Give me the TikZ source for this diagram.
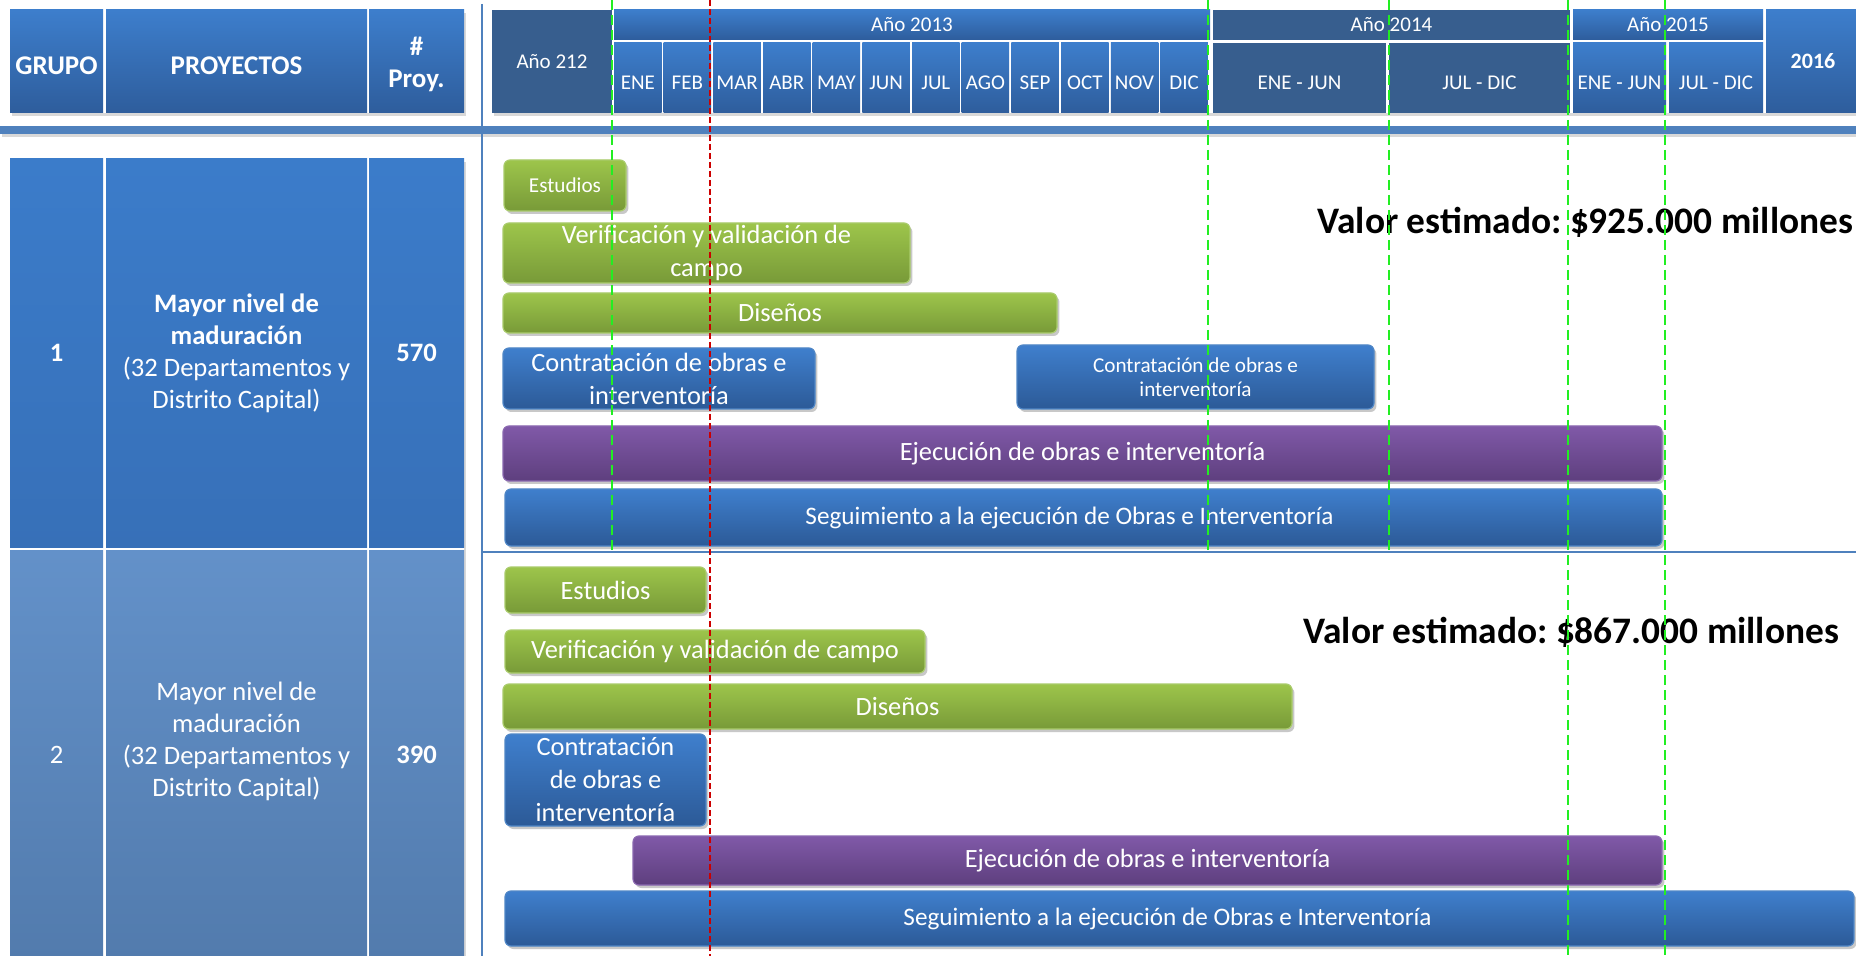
\documentclass[tikz,border=0pt]{standalone}
\usepackage{fontspec}
\setmainfont{Carlito}
\frenchspacing
\usetikzlibrary{shadows}

\definecolor{hdrtop}{HTML}{3D7ECC}
\definecolor{hdrbot}{HTML}{2E5D9C}
\definecolor{hdrdark}{HTML}{375E8E}
\definecolor{gonetop}{HTML}{3B7CCA}
\definecolor{gonebot}{HTML}{3770B8}
\definecolor{gtwotop}{HTML}{6391C9}
\definecolor{gtwobot}{HTML}{527BAD}
\definecolor{greentop}{HTML}{9DC54B}
\definecolor{greenbot}{HTML}{789A38}
\definecolor{greenedge}{HTML}{A9CB6B}
\definecolor{bluetop}{HTML}{3F7FCD}
\definecolor{bluebot}{HTML}{2C5A97}
\definecolor{blueedge}{HTML}{4F86C6}
\definecolor{purpletop}{HTML}{8059A8}
\definecolor{purplebot}{HTML}{5E3F7E}
\definecolor{purpleedge}{HTML}{8A68B0}
\definecolor{rulecol}{HTML}{4F81BD}
\definecolor{guidegreen}{HTML}{22EE22}
\definecolor{guidered}{HTML}{CC0000}

\tikzset{
  cell/.style={inner sep=0pt, outer sep=0pt, text=white, align=center},
  sz/.style 2 args={minimum width=#1*0.5pt, minimum height=#2*0.5pt},
  lightcell/.style={cell, top color=hdrtop, bottom color=hdrbot},
  darkcell/.style={cell, fill=hdrdark},
  headfont/.style={font=\fontsize{13.5}{16}\selectfont\bfseries, text height=12.7pt, text depth=0pt},
  monthfont/.style={font=\fontsize{10.5}{12.5}\selectfont},
  lowtext/.style={text height=11.5pt, text depth=0pt},
  gonecell/.style={cell, top color=gonetop, bottom color=gonebot, font=\fontsize{13.3}{16}\selectfont},
  gtwocell/.style={cell, top color=gtwotop, bottom color=gtwobot, font=\fontsize{13.3}{16}\selectfont},
  barshadow/.style={drop shadow={shadow xshift=1.2pt, shadow yshift=-1.5pt, opacity=0.3, fill=black!70}},
  tabshadow/.style={drop shadow={shadow xshift=1pt, shadow yshift=-1.5pt, opacity=0.25, fill=black!60}},
  task/.style={cell, rounded corners=3pt, line width=0.6pt, barshadow, font=\fontsize{13.2}{16.5}\selectfont},
  greentask/.style={task, draw=greenedge, top color=greentop, bottom color=greenbot},
  bluetask/.style={task, draw=blueedge, top color=bluetop, bottom color=bluebot},
  purpletask/.style={task, draw=purpleedge, top color=purpletop, bottom color=purplebot},
  smalltext/.style={font=\fontsize{10.6}{12}\selectfont},
  guide/.style={guidegreen, line width=1pt, dash pattern=on 5pt off 2.5pt},
  today/.style={guidered, line width=1pt, dash pattern=on 3pt off 1.5pt},
  valor/.style={font=\fontsize{18.7}{22}\selectfont\bfseries, inner sep=0pt, anchor=base west}
}

\begin{document}
\begin{tikzpicture}[x=0.5pt, y=-0.5pt]
\useasboundingbox[fill=white] (0,0) rectangle (1856,956);

    \fill [white, tabshadow] (10,10) rectangle (464,113);
    \fill [white, tabshadow] (492,10) rectangle (1856,113);
    \fill [white, tabshadow] (10,159) rectangle (464,960);
    \fill [rulecol, tabshadow] (0,126) rectangle (1856,134);
    \draw [rulecol, line width=0.75pt] (482,4) -- (482,956);
    \draw [rulecol, line width=0.6pt] (482,552) -- (1856,552);

    \node [lightcell, headfont, sz={93}{103}] (grupo) at (56.5,61.5) {GRUPO};
    \node [lightcell, headfont, sz={261}{103}] (proyectos) at (236.5,61.5) {PROYECTOS};
    \node [lightcell, headfont, text height=26.5pt, sz={95}{103}] (numproy) at (416.5,61.5) {\#\\Proy.};

    \node [gonecell, sz={93}{388}] (gruno) at (56.5,353) {\textbf{1}};
    \node [gonecell, sz={261}{388}] (pruno) at (236.5,353) {\textbf{Mayor nivel de}\\\textbf{maduración}\\(32 Departamentos y\\Distrito Capital)};
    \node [gonecell, sz={95}{388}] (nuno) at (416.5,353) {\textbf{570}};

    \node [gtwocell, sz={93}{410}] (grdos) at (56.5,755) {2};
    \node [gtwocell, sz={261}{410}] (prdos) at (236.5,755) {};
    \node [cell, font=\fontsize{13.3}{16}\selectfont] (prdostxt) at (236.5,741) {Mayor nivel de\\maduración\\(32 Departamentos y\\Distrito Capital)};
    \node [gtwocell, sz={95}{410}] (ndos) at (416.5,755) {\textbf{390}};

    \node [darkcell, monthfont, sz={120}{103}] (a212) at (552,61.5) {Año 212};
    \node [lightcell, monthfont, sz={596}{30}] (a2013) at (912,25) {Año 2013};
    \node [lightcell, monthfont, lowtext, sz={47.5}{70}] (ene) at (637.8,78) {ENE};
    \node [lightcell, monthfont, lowtext, sz={47.5}{70}] (feb) at (687.4,78) {FEB};
    \node [lightcell, monthfont, lowtext, sz={47.5}{70}] (mar) at (737.1,78) {MAR};
    \node [lightcell, monthfont, lowtext, sz={47.5}{70}] (abr) at (786.8,78) {ABR};
    \node [lightcell, monthfont, lowtext, sz={47.5}{70}] (may) at (836.4,78) {MAY};
    \node [lightcell, monthfont, lowtext, sz={47.5}{70}] (jun) at (886.1,78) {JUN};
    \node [lightcell, monthfont, lowtext, sz={47.5}{70}] (jul) at (935.8,78) {JUL};
    \node [lightcell, monthfont, lowtext, sz={47.5}{70}] (ago) at (985.4,78) {AGO};
    \node [lightcell, monthfont, lowtext, sz={47.5}{70}] (sep) at (1035.1,78) {SEP};
    \node [lightcell, monthfont, lowtext, sz={47.5}{70}] (oct) at (1084.8,78) {OCT};
    \node [lightcell, monthfont, lowtext, sz={47.5}{70}] (nov) at (1134.5,78) {NOV};
    \node [lightcell, monthfont, lowtext, sz={47.5}{70}] (dic) at (1184.1,78) {DIC};

    \node [darkcell, monthfont, sz={357}{30}] (a2014) at (1391.5,25) {Año 2014};
    \node [darkcell, monthfont, lowtext, sz={173}{70}] (sem14a) at (1299.5,78) {ENE - JUN};
    \node [darkcell, monthfont, lowtext, sz={181}{70}] (sem14b) at (1479.5,78) {JUL - DIC};
    \node [lightcell, monthfont, sz={190}{30}] (a2015) at (1668,25) {Año 2015};
    \node [lightcell, monthfont, lowtext, sz={93}{70}] (sem15a) at (1619.5,78) {ENE - JUN};
    \node [lightcell, monthfont, lowtext, sz={94}{70}] (sem15b) at (1716,78) {JUL - DIC};
    \node [lightcell, monthfont, sz={94}{103}, font=\fontsize{11}{13}\selectfont\bfseries] (a2016) at (1813,61.5) {2016};

    \node [greentask, smalltext, sz={122}{51}] (estuno) at (565,185.5) {Estudios};
    \node [greentask, sz={407}{60}] (veruno) at (706.5,253) {Verificación y validación de\\campo};
    \node [greentask, sz={554}{40}] (disuno) at (780,313) {Diseños};
    \node [bluetask, sz={312}{61}] (conunoa) at (659,378.5) {Contratación de obras e\\interventoría};
    \node [bluetask, smalltext, sz={357}{64}] (conunob) at (1195.5,377) {Contratación de obras e\\interventoría};
    \node [purpletask, sz={1159}{55}] (ejeuno) at (1082.5,453.5) {Ejecución de obras e interventoría};
    \node [bluetask, font=\fontsize{12.6}{15}\selectfont, sz={1157}{57}] (seguno) at (1083.5,517.5) {Seguimiento a la ejecución de Obras e Interventoría\hspace{14pt}};
    \node [valor] (valoruno) at (1317,234) {Valor estimado: \$925.000 millones};

    \node [greentask, sz={201}{46}] (estdos) at (605.5,590) {Estudios};
    \node [greentask, sz={420}{43}] (verdos) at (715,651.5) {Verificación y validación de campo};
    \node [greentask, sz={789}{45}] (disdos) at (897.5,706.5) {Diseños};
    \node [bluetask, sz={201}{92}] (condos) at (605.5,780) {Contratación\\de obras e\\interventoría};
    \node [purpletask, sz={1029}{49}] (ejedos) at (1147.5,860.5) {Ejecución de obras e interventoría};
    \node [bluetask, font=\fontsize{12.6}{15}\selectfont, sz={1349}{55}] (segdos) at (1179.5,918.5) {Seguimiento a la ejecución de Obras e Interventoría\hspace{12pt}};
    \node [valor] (valordos) at (1303,643) {Valor estimado: \$867.000 millones};

    \draw [guide] (612,0) -- (612,553);
    \draw [guide] (1208,0) -- (1208,553);
    \draw [guide] (1389,0) -- (1389,553);
    \draw [guide] (1568,0) -- (1568,956);
    \draw [guide] (1665,0) -- (1665,956);
    \draw [today] (710,0) -- (710,956);

\end{tikzpicture}
\end{document}
